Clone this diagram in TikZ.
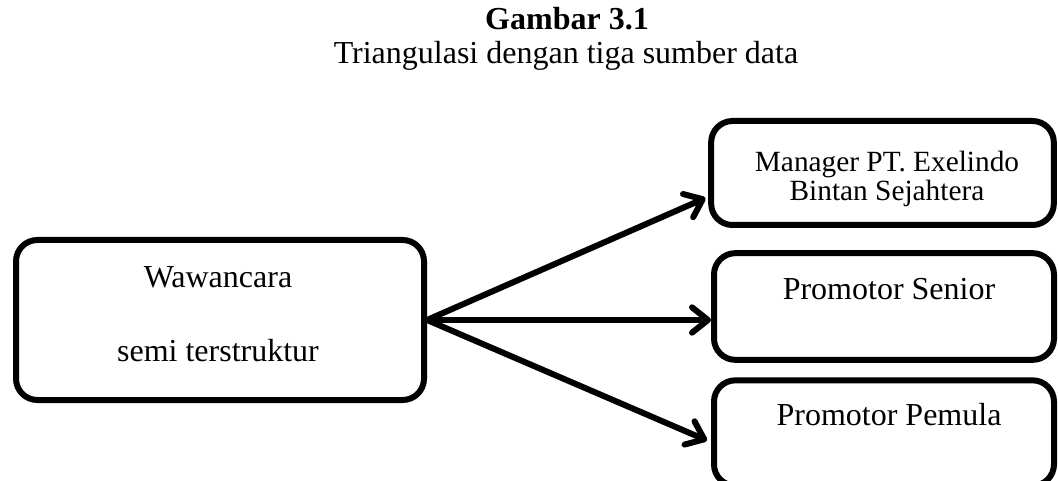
\documentclass[tikz,border=0pt]{standalone}
\usepackage{fontspec}
\setmainfont{Liberation Serif}
\usetikzlibrary{arrows.meta}
\begin{document}
\begin{tikzpicture}[x=0.75pt,y=-0.75pt,
  box/.style={draw=black,line width=4.5pt,rounded corners=16pt,inner sep=0pt},
  txt/.style={font=\fontsize{24}{28}\selectfont,inner sep=0pt,anchor=base},
  small/.style={font=\fontsize{22}{26}\selectfont},
  arr/.style={line width=4.5pt,line cap=round,line join=round,
    -{Straight Barb[length=12pt,width=19pt,line width=4.5pt,round]}}]
\useasboundingbox (0,0) rectangle (1058,481);
\clip (0,0) rectangle (1058,481);
\node[txt,font=\fontsize{24}{28}\selectfont\bfseries] (title) at (567,30) {Gambar 3.1};
\node[txt] (sub) at (566,64) {Triangulasi dengan tiga sumber data};
% boxes
\node[box,minimum width=306pt,minimum height=120pt] (L) at (220,320) {};
\node[box,minimum width=257pt,minimum height=78pt] (T) at (882.5,173) {};
\node[box,minimum width=255pt,minimum height=80pt] (M) at (884,306.5) {};
\node[box,minimum width=255pt,minimum height=79pt] (B) at (884,433) {};
% texts
\node[txt] (l1) at (218,288) {Wawancara};
\node[txt] (l2) at (218,362) {semi terstruktur};
\node[txt,small] (t1) at (887,172) {Manager PT. Exelindo};
\node[txt,small] (t2) at (887,201) {Bintan Sejahtera};
\node[txt] (m1) at (889,300) {Promotor Senior};
\node[txt] (b1) at (889,425) {Promotor Pemula};
% arrows
\draw[arr] (L.east) -- ([yshift=-18.75pt,xshift=-2pt]T.west);
\draw[arr] (L.east) -- (L.east -| M.west);
\draw[arr] (L.east) -- ([yshift=-5.6pt,xshift=-3pt]B.west);
\end{tikzpicture}
\end{document}
